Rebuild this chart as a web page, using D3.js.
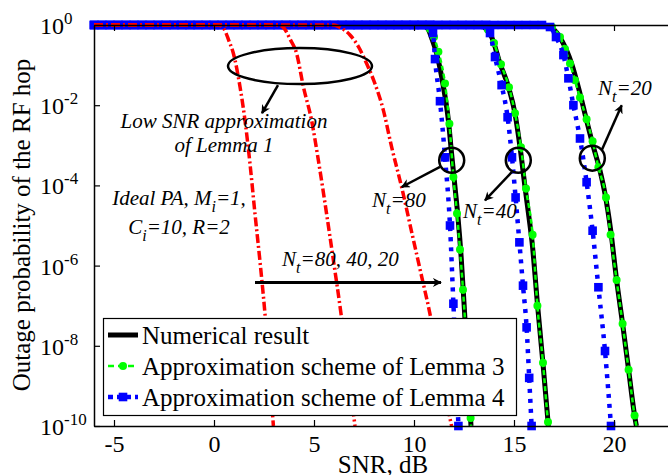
<!DOCTYPE html>
<html>
<head>
<meta charset="utf-8">
<script src="https://cdn.jsdelivr.net/npm/d3@7"></script>
<style>
  body { margin: 0; background: #fff; }
  svg { display: block; font-family: "Liberation Serif", "Times New Roman", serif; }
</style>
</head>
<body>
<div id="chart"></div>
<script>
// SNR sample points (dB) where every curve still sits at outage = 1
const snrGrid = [-6, -5.6, -5.2, -4.8, -4.4, -4, -3.6, -3.2, -2.8, -2.4, -2, -1.6, -1.2, -0.8, -0.4,
  0, 0.4, 0.8, 1.2, 1.6, 2, 2.4, 2.8, 3.2, 3.6, 4, 4.4, 4.8, 5.2, 5.6, 6, 6.4, 6.8, 7.2, 7.6,
  8, 8.4, 8.8, 9.2, 9.6, 10, 10.4, 10.8, 11.2, 11.6, 12, 12.4, 12.8, 13.2, 13.6, 14, 14.4,
  14.8, 15.2, 15.6, 16, 16.4];

// [SNR dB, log10 outage]
const numerical80 = [[-6, 0], [10.4, 0], [10.7, -0.1], [10.9, -0.35], [11.13, -0.71], [11.47, -1.54], [11.72, -2.38],
  [11.88, -3.21], [12.05, -4.04], [12.2, -4.8], [12.36, -5.8], [12.52, -7.1], [12.68, -8.5], [12.85, -10]];
const numerical40 = [[-6, 0], [13.3, 0], [13.6, -0.1], [13.88, -0.3], [14.3, -0.96], [14.72, -1.54], [15.05, -2.21],
  [15.3, -3.04], [15.55, -4.04], [15.75, -4.8], [15.9, -5.4], [16.18, -7.0], [16.45, -8.45], [16.72, -10]];
const numerical20 = [[-6, 0], [16.4, 0], [16.9, -0.08], [17.38, -0.38], [17.88, -0.96], [18.3, -1.71], [18.63, -2.38],
  [18.97, -3.04], [19.3, -3.63], [19.55, -4.21], [19.83, -5.1], [20.13, -6.36], [20.43, -7.45], [20.73, -8.6],
  [21.03, -9.74], [21.12, -10]];

// Lemma 3 (drop part only; flat part at 1 comes from snrGrid)
const lemma3_80 = [[10.8, -0.1], [11.0, -0.3], [11.22, -0.67], [11.55, -1.46], [11.77, -2.46], [11.97, -3.79],
  [12.15, -4.7], [12.3, -5.6], [12.45, -6.6], [12.58, -7.6], [12.7, -8.7], [12.83, -9.8], [12.85, -10]];
const lemma3_40 = [[13.7, -0.12], [14.0, -0.45], [14.35, -0.98], [14.75, -1.55], [15.05, -2.2], [15.35, -3.05],
  [15.6, -4.08], [15.93, -5.23], [16.17, -7.0], [16.45, -8.42], [16.7, -9.9], [16.72, -10]];
const lemma3_20 = [[16.9, -0.05], [17.3, -0.3], [17.55, -0.6], [17.8, -0.96], [18.05, -1.38], [18.3, -1.81],
  [18.63, -2.35], [18.93, -2.9], [19.22, -3.55], [19.6, -4.3], [19.83, -5.23], [20.13, -6.36], [20.43, -7.45],
  [20.73, -8.6], [21.03, -9.74], [21.12, -10]];

// Lemma 4 (drop part only)
const lemma4_80 = [[10.95, -0.2], [11.05, -0.85], [11.3, -1.9], [11.55, -3.3], [11.8, -5.0], [11.97, -6.95],
  [12.1, -8.4], [12.22, -10]];
const lemma4_40 = [[13.8, -0.2], [14.05, -0.8], [14.38, -1.5], [14.68, -2.3], [14.9, -3.3], [15.08, -4.3],
  [15.27, -5.42], [15.45, -6.5], [15.63, -7.54], [15.76, -8.8], [15.88, -10]];
const lemma4_20 = [[16.8, -0.05], [17.1, -0.3], [17.47, -0.75], [17.72, -1.33], [17.97, -2.0], [18.3, -2.83],
  [18.63, -3.92], [18.93, -5.13], [19.22, -6.54], [19.55, -8.13], [19.85, -10]];

// Low SNR approximation of Lemma 1
const lowSnr80 = [[-6, 0], [0.2, 0], [0.5, -0.1], [0.75, -0.4], [0.97, -0.71], [1.3, -1.54], [1.55, -2.38],
  [1.8, -3.46], [2.05, -4.71], [2.3, -5.9], [2.55, -7.21], [2.75, -8.5], [2.97, -10]];
const lowSnr40 = [[-6, 0], [3.2, 0], [3.5, -0.08], [3.8, -0.35], [4.13, -0.71], [4.47, -1.54], [4.88, -2.38],
  [5.22, -3.38], [5.63, -4.71], [5.95, -5.8], [6.35, -7.2], [6.7, -8.6], [7.05, -10]];
const lowSnr20 = [[-6, 0], [6.0, 0], [6.3, -0.06], [6.8, -0.25], [7.22, -0.54], [7.63, -0.96], [8.0, -1.4],
  [8.47, -2.13], [8.88, -3.04], [9.38, -4.04], [9.9, -5.2], [10.35, -6.2], [10.8, -7.21], [11.3, -8.6], [11.88, -10]];

const xTicks = [-5, 0, 5, 10, 15, 20];
const yTickExp = [0, -2, -4, -6, -8, -10];
const legendLabels = ["Numerical result", "Approximation scheme of Lemma 3", "Approximation scheme of Lemma 4"];

const FONT = "Liberation Serif";
const W = 668, H = 475;
const svg = d3.select("#chart").append("svg").attr("width", W).attr("height", H);

const x = d3.scaleLinear().domain([-6, 23]).range([94, 674]);
const y = d3.scaleLog().domain([1e-10, 1]).range([426, 25]);
const px = d => x(d[0]);
const py = d => y(Math.pow(10, d[1]));
const line = d3.line().x(px).y(py).curve(d3.curveMonotoneX);

const withFlat = pts => snrGrid.filter(s => s < pts[0][0]).map(s => [s, 0]).concat(pts);

// arrow head
svg.append("defs").append("marker")
    .attr("id", "ah").attr("viewBox", "0 0 10 10").attr("refX", 9).attr("refY", 5)
    .attr("markerWidth", 13).attr("markerHeight", 9).attr("markerUnits", "userSpaceOnUse")
    .attr("orient", "auto")
  .append("path").attr("d", "M0,0L10,5L0,10L3,5Z").attr("fill", "#000");

// Numerical result
[numerical80, numerical40, numerical20].forEach(s => {
  svg.append("path").datum(s).attr("d", line)
    .attr("fill", "none").attr("stroke", "#000").attr("stroke-width", 5);
});

// Lemma 3
[lemma3_80, lemma3_40, lemma3_20].forEach(s => {
  const pts = withFlat(s);
  svg.append("path").datum(pts).attr("d", line)
    .attr("fill", "none").attr("stroke", "#00ff00").attr("stroke-width", 2.5)
    .attr("stroke-dasharray", "5,3");
  svg.append("g").selectAll("circle").data(pts.filter(d => d[1] > -9.95)).join("circle")
    .attr("cx", px).attr("cy", py).attr("r", 4).attr("fill", "#00ff00");
});

// Lemma 4
[lemma4_80, lemma4_40, lemma4_20].forEach(s => {
  const pts = withFlat(s);
  svg.append("path").datum(pts).attr("d", line)
    .attr("fill", "none").attr("stroke", "#0000ff").attr("stroke-width", 4.5)
    .attr("stroke-dasharray", "4,6");
  svg.append("g").selectAll("rect").data(pts).join("rect")
    .attr("x", d => px(d) - 4.3).attr("y", d => py(d) - 4.3)
    .attr("width", 8.6).attr("height", 8.6).attr("fill", "#0000ff");
});

// Low SNR approximation
[lowSnr80, lowSnr40, lowSnr20].forEach(s => {
  svg.append("path").datum(s).attr("d", line)
    .attr("fill", "none").attr("stroke", "#ff0000").attr("stroke-width", 3.5)
    .attr("stroke-dasharray", "9,3,2,3");
});

// axes
const axisStyle = g => {
  g.select(".domain").attr("stroke", "#000").attr("stroke-width", 1.5);
  g.selectAll(".tick line").attr("stroke", "#000").attr("stroke-width", 1.2);
};
svg.append("g").attr("transform", "translate(0,426)")
  .call(d3.axisBottom(x).tickValues(xTicks).tickSizeInner(-6).tickSizeOuter(0).tickPadding(9)
    .tickFormat(d => String(d)))
  .call(axisStyle)
  .call(g => g.selectAll("text").attr("font-family", FONT).attr("font-size", 24).attr("fill", "#000"));
svg.append("g").attr("transform", "translate(0,25)")
  .call(d3.axisTop(x).tickValues(xTicks).tickSizeInner(-6).tickSizeOuter(0).tickFormat(""))
  .call(axisStyle);
svg.append("g").attr("transform", "translate(94,0)")
  .call(d3.axisLeft(y).tickValues(yTickExp.map(e => Math.pow(10, e))).tickSizeInner(-6).tickSizeOuter(0).tickFormat(""))
  .call(axisStyle);

const yl = svg.append("g").attr("font-family", FONT).selectAll("text").data(yTickExp).join("text")
  .attr("x", 40).attr("y", e => y(Math.pow(10, e)) + 9).attr("font-size", 24);
yl.append("tspan").text("10");
yl.append("tspan").attr("dy", -10).attr("font-size", 17).text(e => String(e));

svg.append("text").attr("x", 383).attr("y", 473).attr("text-anchor", "middle")
  .attr("font-family", FONT).attr("font-size", 25).text("SNR, dB");
svg.append("text").attr("transform", "translate(30,225) rotate(-90)").attr("text-anchor", "middle")
  .attr("font-family", FONT).attr("font-size", 25).text("Outage probability of the RF hop");

// annotations (data coordinates)
const ann = svg.append("g").attr("font-family", FONT).attr("font-style", "italic").attr("font-size", 21);
const arrow = (a, b, w) => ann.append("line")
  .attr("x1", x(a[0])).attr("y1", py(a)).attr("x2", x(b[0])).attr("y2", py(b))
  .attr("stroke", "#000").attr("stroke-width", w || 2.5).attr("marker-end", "url(#ah)");
const subText = (pos, parts, anchor) => {
  const t = ann.append("text").attr("x", x(pos[0])).attr("y", py(pos)).attr("text-anchor", anchor || "start");
  parts.forEach(p => {
    if (p.sub) {
      t.append("tspan").attr("dy", 7).attr("font-size", 16).text(p.sub);
      t.append("tspan").attr("dy", -7).text(p.after);
    } else t.append("tspan").text(p.text);
  });
};

ann.append("ellipse").attr("cx", x(4.3)).attr("cy", py([0, -1.025])).attr("rx", 72).attr("ry", 18)
  .attr("fill", "none").attr("stroke", "#000").attr("stroke-width", 2.5);
arrow([3.2, -1.5], [2.4, -2.2]);
ann.append("text").attr("x", x(0.5)).attr("y", py([0, -2.575])).attr("text-anchor", "middle").text("Low SNR approximation");
ann.append("text").attr("x", x(0.5)).attr("y", py([0, -3.175])).attr("text-anchor", "middle").text("of Lemma 1");

subText([-1.75, -4.5], [{text: "Ideal PA, M"}, {sub: "i", after: "=1,"}], "middle");
subText([-1.75, -5.2], [{text: "C"}, {sub: "i", after: "=10, R=2"}], "middle");

subText([3.4, -6.0], [{text: "N"}, {sub: "t", after: "=80, 40, 20"}]);
arrow([2.05, -6.42], [11.35, -6.42], 3);

[[11.885, -3.375], [15.215, -3.375], [18.915, -3.32]].forEach(c => {
  ann.append("circle").attr("cx", x(c[0])).attr("cy", py(c)).attr("r", 12.5)
    .attr("fill", "none").attr("stroke", "#000").attr("stroke-width", 2.5);
});
arrow([11.3, -3.54], [9.385, -4.04]);
subText([7.9, -4.54], [{text: "N"}, {sub: "t", after: "=80"}]);
arrow([14.885, -3.67], [13.55, -4.375]);
subText([12.45, -4.825], [{text: "N"}, {sub: "t", after: "=40"}]);
arrow([19.385, -3.125], [20.385, -2.0]);
subText([19.2, -1.75], [{text: "N"}, {sub: "t", after: "=20"}]);

// legend
const lg = svg.append("g").attr("font-family", FONT);
lg.append("rect").attr("x", 103.5).attr("y", 318.5).attr("width", 413).attr("height", 97)
  .attr("fill", "#fff").attr("stroke", "#000").attr("stroke-width", 1.2);
const rowY = [335, 366, 397];
legendLabels.forEach((lab, i) => {
  const ly = rowY[i];
  if (i === 0) {
    lg.append("line").attr("x1", 108).attr("x2", 138).attr("y1", ly).attr("y2", ly)
      .attr("stroke", "#000").attr("stroke-width", 5);
  } else if (i === 1) {
    lg.append("line").attr("x1", 108).attr("x2", 138).attr("y1", ly).attr("y2", ly)
      .attr("stroke", "#00ff00").attr("stroke-width", 2.5).attr("stroke-dasharray", "6,4");
    lg.append("circle").attr("cx", 123).attr("cy", ly).attr("r", 4).attr("fill", "#00ff00");
  } else {
    lg.append("line").attr("x1", 108).attr("x2", 138).attr("y1", ly).attr("y2", ly)
      .attr("stroke", "#0000ff").attr("stroke-width", 4.5).attr("stroke-dasharray", "5,4");
    lg.append("rect").attr("x", 118.7).attr("y", ly - 4.3).attr("width", 8.6).attr("height", 8.6).attr("fill", "#0000ff");
  }
  lg.append("text").attr("x", 142).attr("y", ly + 8.5).attr("font-size", 25).text(lab);
});
</script>
</body>
</html>
